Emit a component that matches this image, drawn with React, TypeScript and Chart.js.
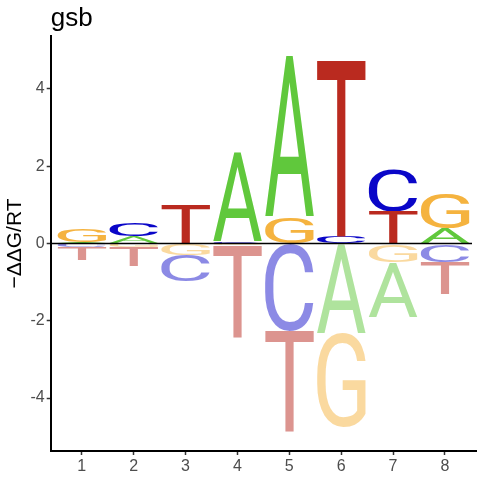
import { useEffect, useRef } from 'react';
import { Chart, registerables } from 'chart.js';

Chart.register(...registerables);

// energy logo: one signed value per letter per position (−ΔΔG/RT)
const positions = [1, 2, 3, 4, 5, 6, 7, 8];
const letters = ['A', 'C', 'G', 'T'];
const aValues = [0.04, 0.2, 0.01, 2.32, 4.19, -2.32, -1.42, 0.4];
const cValues = [-0.1, 0.36, -0.69, 0.05, -2.26, 0.17, 1.08, -0.48];
const gValues = [0.36, -0.1, -0.3, -0.05, 0.69, -2.43, -0.48, 0.91];
const tValues = [-0.33, -0.48, 1.0, -2.37, -2.62, 4.56, 0.82, -0.83];
const yTicks = [-4, -2, 0, 2, 4];

const positiveColors: Record<string, string> = {
  A: '#60C83C',
  C: '#0A06C8',
  G: '#F5B33F',
  T: '#BA2A1F',
};
const negativeColors: Record<string, string> = {
  A: 'rgba(96,200,60,0.5)',
  C: 'rgba(10,6,200,0.47)',
  G: 'rgba(245,179,63,0.5)',
  T: 'rgba(186,42,31,0.5)',
};

const valuesByLetter: Record<string, number[]> = {
  A: aValues,
  C: cValues,
  G: gValues,
  T: tValues,
};

// stack letters per position: smallest next to zero, biggest furthest away
function buildRanges() {
  const ranges: Record<string, { x: number; y: [number, number] }[]> = {};
  letters.forEach(l => (ranges[l] = []));
  positions.forEach((pos, i) => {
    const items = letters.map(l => ({ l, v: valuesByLetter[l][i] }));
    const up = items.filter(d => d.v > 0).sort((a, b) => a.v - b.v);
    const down = items.filter(d => d.v <= 0).sort((a, b) => b.v - a.v);
    let acc = 0;
    up.forEach(d => {
      ranges[d.l].push({ x: pos, y: [acc, acc + d.v] });
      acc += d.v;
    });
    acc = 0;
    down.forEach(d => {
      ranges[d.l].push({ x: pos, y: [acc + d.v, acc] });
      acc += d.v;
    });
  });
  letters.forEach(l => ranges[l].sort((a, b) => a.x - b.x));
  return ranges;
}

function drawGlyph(ctx: CanvasRenderingContext2D, ch: string, color: string,
  x: number, y: number, w: number, h: number) {
  ctx.save();
  ctx.font = '400 200px Roboto';
  ctx.textAlign = 'left';
  ctx.textBaseline = 'alphabetic';
  const m = ctx.measureText(ch);
  const bw = m.actualBoundingBoxLeft + m.actualBoundingBoxRight;
  const bh = m.actualBoundingBoxAscent + m.actualBoundingBoxDescent;
  ctx.translate(x, y);
  ctx.scale(w / bw, h / bh);
  ctx.fillStyle = color;
  ctx.fillText(ch, m.actualBoundingBoxLeft, m.actualBoundingBoxAscent);
  ctx.restore();
}

const logoPlugin = {
  id: 'logoGlyphs',
  afterDatasetsDraw(chart: any) {
    const ctx = chart.ctx as CanvasRenderingContext2D;
    const area = chart.chartArea;
    ctx.save();
    chart.data.datasets.forEach((ds: any, di: number) => {
      const meta = chart.getDatasetMeta(di);
      meta.data.forEach((el: any, i: number) => {
        const { x, y, base, width } = el.getProps(['x', 'y', 'base', 'width'], true);
        const top = Math.min(y, base);
        const h = Math.abs(base - y);
        if (h < 0.3) return;
        const raw = ds.data[i].y;
        const color = raw[0] < 0 ? negativeColors[ds.label] : positiveColors[ds.label];
        drawGlyph(ctx, ds.label, color, x - width / 2, top, width, h);
      });
    });
    // zero line
    const y0 = chart.scales.y.getPixelForValue(0);
    ctx.strokeStyle = '#000';
    ctx.lineWidth = 1.5;
    ctx.beginPath();
    ctx.moveTo(area.left, y0);
    ctx.lineTo(area.right - 4, y0);
    ctx.stroke();
    ctx.restore();
  },
};

export default function App() {
  const canvasRef = useRef<HTMLCanvasElement>(null);
  const chartRef = useRef<Chart | null>(null);

  useEffect(() => {
    if (!canvasRef.current) return;
    if (chartRef.current) { chartRef.current.destroy(); chartRef.current = null; }

    const ranges = buildRanges();
    const tickFont = { family: 'Liberation Sans', size: 16 };

    chartRef.current = new Chart(canvasRef.current, {
      type: 'bar',
      data: {
        datasets: letters.map(l => ({
          label: l,
          data: ranges[l] as any,
          grouped: false,
          barPercentage: 0.94,
          categoryPercentage: 1,
          backgroundColor: 'rgba(0,0,0,0)',
          borderWidth: 0,
        })),
      },
      options: {
        animation: false,
        responsive: false,
        layout: { padding: { left: 0, right: 4, top: 0, bottom: 0 } },
        plugins: {
          legend: { display: false },
          tooltip: { enabled: false },
          title: {
            display: true,
            text: 'gsb',
            align: 'start',
            fullSize: false,
            color: '#000',
            font: { family: 'Liberation Sans', size: 26, weight: 'normal' },
            padding: { top: 3, bottom: 1.8 },
          },
        },
        scales: {
          x: {
            type: 'linear',
            min: 0.4,
            max: 8.6,
            offset: false,
            afterBuildTicks: (s: any) => { s.ticks = positions.map(v => ({ value: v })); },
            afterFit: (s: any) => { s.height = 29; },
            ticks: { color: '#4D4D4D', font: tickFont, padding: 2 },
            grid: {
              offset: false,
              drawOnChartArea: false,
              drawTicks: true,
              tickLength: 4,
              tickColor: '#333',
              tickWidth: 1.5,
            },
            border: { display: true, color: '#000', width: 2 },
          },
          y: {
            type: 'linear',
            min: -5.37,
            max: 5.37,
            afterBuildTicks: (s: any) => { s.ticks = yTicks.map(v => ({ value: v })); },
            afterFit: (s: any) => { s.width = 50.7; },
            ticks: { color: '#4D4D4D', font: tickFont, padding: 2 },
            grid: {
              drawOnChartArea: false,
              drawTicks: true,
              tickLength: 4,
              tickColor: '#333',
              tickWidth: 1.5,
            },
            border: { display: true, color: '#000', width: 2 },
            title: {
              display: true,
              text: '−ΔΔG/RT',
              color: '#000',
              font: { family: 'Liberation Sans', size: 21 },
              padding: { top: 3, bottom: 0 },
            },
          },
        },
      },
      plugins: [logoPlugin],
    });

    return () => { chartRef.current?.destroy(); chartRef.current = null; };
  }, []);

  return (
    <div style={{ position: 'absolute', left: 0, top: 0, width: 480, height: 480, background: '#fff' }}>
      <canvas ref={canvasRef} width={480} height={480} role="img" aria-label="Energy logo" />
    </div>
  );
}
